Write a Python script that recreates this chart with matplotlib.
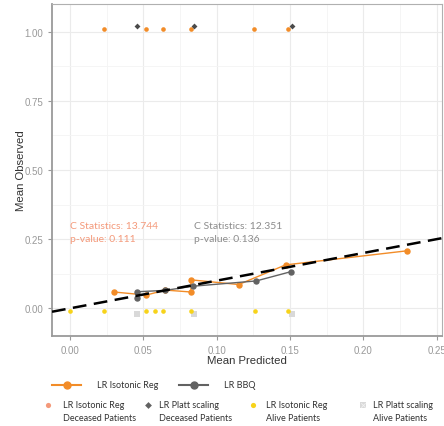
import matplotlib
matplotlib.use('Agg')
from matplotlib import pyplot as plt
from matplotlib.ticker import MultipleLocator

# calibration curves
iso_x = [0.030, 0.052, 0.065, 0.0825, 0.0825, 0.115, 0.147, 0.230]
iso_y = [0.059, 0.048, 0.066, 0.059, 0.103, 0.086, 0.157, 0.208]
bbq_x = [0.046, 0.046, 0.065, 0.084, 0.127, 0.151]
bbq_y = [0.038, 0.060, 0.065, 0.080, 0.099, 0.133]

# rug of patient predictions (deceased near 1, alive near 0)
iso_dead_x = [0.023, 0.052, 0.0634, 0.0825, 0.1256, 0.1487]
iso_dead_y = 1.008
platt_dead_x = [0.0457, 0.0844, 0.1515]
platt_dead_y = 1.019
iso_alive_x = [0.0, 0.023, 0.052, 0.058, 0.0634, 0.0825, 0.126, 0.149]
iso_alive_y = -0.011
platt_alive_x = [0.0457, 0.0844, 0.1515]
platt_alive_y = -0.019

iso_stats = ['C Statistics: 13.744', 'p-value: 0.111']
bbq_stats = ['C Statistics: 12.351', 'p-value: 0.136']

ORANGE = '#f28c28'
SALMON = '#f4997a'
GREY = '#626262'
YELLOW = '#f7d31a'
LIGHT = '#d9d9d9'

W, H = 444, 427
fig = plt.figure(figsize=(W / 100, H / 100), dpi=100)
ax = fig.add_axes([52 / W, 1 - 337 / H, 390 / W, 332 / H])

ax.set_xlim(-0.0123, 0.2537)
ax.set_ylim(-0.1, 1.1)
ax.xaxis.set_major_locator(MultipleLocator(0.05))
ax.xaxis.set_minor_locator(MultipleLocator(0.025))
ax.yaxis.set_major_locator(MultipleLocator(0.25))
ax.yaxis.set_minor_locator(MultipleLocator(0.125))
ax.grid(which='major', color='#ebebeb', lw=0.8)
ax.grid(which='minor', color='#f4f4f4', lw=0.6)
ax.set_axisbelow(True)
ax.xaxis.set_major_formatter(lambda v, p: '%.2f' % v)
ax.yaxis.set_major_formatter(lambda v, p: '%.2f' % v)
ax.tick_params(which='major', length=3, width=0.8, color='#9a9a9a',
               labelsize=7, labelcolor='#999999')
ax.tick_params(which='minor', length=0)
for lab in ax.get_xticklabels() + ax.get_yticklabels():
    lab.set_family('Liberation Sans')
for s in ax.spines.values():
    s.set_color('#b0b0b0')
    s.set_linewidth(0.8)
ax.spines['left'].set_color('#9a9a9a')
ax.spines['bottom'].set_color('#9a9a9a')
ax.spines['left'].set_linewidth(1.3)
ax.spines['bottom'].set_linewidth(1.3)

ax.set_xlabel('Mean Predicted', family='Liberation Sans', fontsize=8.2,
              color='#333333', labelpad=0)
ax.set_ylabel('Mean Observed', family='Liberation Sans', fontsize=8.2,
              color='#333333', labelpad=-1)

# perfect calibration
ax.axline((0, 0), slope=1, color='black', lw=1.8, ls=(0, (5.5, 3)), zorder=4)

ax.plot(iso_x, iso_y, color=ORANGE, lw=1, marker='o', ms=3.6, zorder=3)
ax.plot(bbq_x, bbq_y, color=GREY, lw=1, marker='o', ms=3.6, zorder=3)

ax.scatter(iso_dead_x, [iso_dead_y] * len(iso_dead_x), s=11, color=ORANGE, lw=0, zorder=3)
ax.scatter(platt_dead_x, [platt_dead_y] * len(platt_dead_x), s=9, color='#4a4a4a',
           marker='D', lw=0, zorder=3)
ax.scatter(iso_alive_x, [iso_alive_y] * len(iso_alive_x), s=11, color=YELLOW, lw=0, zorder=3)
ax.scatter(platt_alive_x, [platt_alive_y] * len(platt_alive_x), s=14, color=LIGHT,
           marker='s', lw=0, zorder=2)

sfont = dict(family='Lato', fontsize=7.5, va='center')
ax.text(0.0, 0.298, iso_stats[0], color=SALMON, **sfont)
ax.text(0.0, 0.253, iso_stats[1], color=SALMON, **sfont)
ax.text(0.0845, 0.298, bbq_stats[0], color='#8c8c8c', **sfont)
ax.text(0.0845, 0.253, bbq_stats[1], color='#8c8c8c', **sfont)

# legend drawn in pixel coordinates underneath the panel
lg = fig.add_axes([0, 0, 1, 60 / H])
lg.set_xlim(0, W)
lg.set_ylim(427, 367)
lg.axis('off')
lfont = dict(family='Lato', fontsize=6.5, color='#333333', va='center')

lg.plot([52, 81], [386, 386], color=ORANGE, lw=1.5)
lg.plot([66.5], [386], color=ORANGE, marker='o', ms=5)
lg.text(96.5, 386, 'LR Isotonic Reg', **lfont)
lg.plot([179, 208], [386, 386], color=GREY, lw=1.5)
lg.plot([193.5], [386], color=GREY, marker='o', ms=5)
lg.text(224, 386, 'LR BBQ', **lfont)

lg.scatter([48], [405.5], s=14, color=SALMON, lw=0)
lg.text(62.5, 405.5, 'LR Isotonic Reg', **lfont)
lg.text(62.5, 418.5, 'Deceased Patients', **lfont)
lg.scatter([148], [405.5], s=12, color=GREY, marker='D', lw=0)
lg.text(159, 405.5, 'LR Platt scaling', **lfont)
lg.text(159, 418.5, 'Deceased Patients', **lfont)
lg.scatter([253], [405.5], s=14, color=YELLOW, lw=0)
lg.text(265.5, 405.5, 'LR Isotonic Reg', **lfont)
lg.text(265.5, 418.5, 'Alive Patients', **lfont)
lg.scatter([362.5], [405.5], s=18, color=LIGHT, marker='s', lw=0)
lg.scatter([362.5], [405.5], s=10, color='#f2f2f2', marker='x', lw=0.6)
lg.text(373, 405.5, 'LR Platt scaling', **lfont)
lg.text(373, 418.5, 'Alive Patients', **lfont)

fig.savefig('out.png', dpi=100, facecolor='white')
